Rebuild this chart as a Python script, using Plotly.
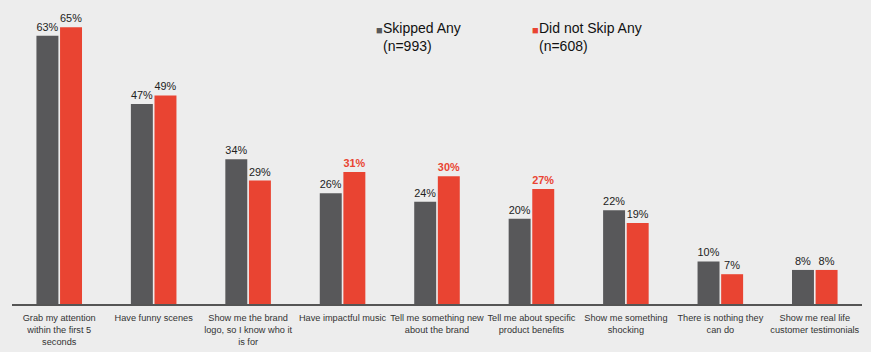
import plotly.graph_objects as go

categories = [
    "Grab my attention<br>within the first 5<br>seconds",
    "Have funny scenes",
    "Show me the brand<br>logo, so I know who it<br>is for",
    "Have impactful music",
    "Tell me something new<br>about the brand",
    "Tell me about specific<br>product benefits",
    "Show me something<br>shocking",
    "There is nothing they<br>can do",
    "Show me real life<br>customer testimonials",
]
skipped = [63, 47, 34, 26, 24, 20, 22, 10, 8]
not_skipped = [65, 49, 29, 31, 30, 27, 19, 7, 8]
highlight = [False, False, False, True, True, True, False, False, False]

GREY = "#58585a"
RED = "#e94432"
FONT = "Liberation Sans, Arial, sans-serif"

fig = go.Figure()
fig.add_trace(go.Bar(
    x=categories, y=skipped, name="Skipped Any",
    marker=dict(color=GREY, line=dict(width=0)),
    text=[f"{v}%" for v in skipped], textposition="outside",
    textfont=dict(size=11, color="#222", family=FONT),
    cliponaxis=False,
))
fig.add_trace(go.Bar(
    x=categories, y=not_skipped, name="Did not Skip Any",
    marker=dict(color=RED, line=dict(width=0)),
    text=[f"<b>{v}%</b>" if h else f"{v}%" for v, h in zip(not_skipped, highlight)],
    textposition="outside",
    textfont=dict(size=11, color=[RED if h else "#222" for h in highlight], family=FONT),
    cliponaxis=False,
))

fig.update_layout(
    width=871, height=352,
    margin=dict(l=12, r=9, t=6, b=48, autoexpand=False),
    paper_bgcolor="#ededed", plot_bgcolor="#ededed",
    barmode="group", bargap=0.5, bargroupgap=0.07,
    showlegend=False,
    font=dict(family=FONT, color="#333"),
    xaxis=dict(
        showline=True, linecolor="#555", linewidth=2,
        tickfont=dict(size=9.2, color="#333", family=FONT),
        tickangle=0, automargin=False, ticklabelstandoff=4,
        ticks="", showgrid=False, fixedrange=True,
    ),
    yaxis=dict(range=[0, 70], visible=False, showgrid=False, fixedrange=True),
)

legend_items = [("Skipped Any<br>(n=993)", GREY, 374), ("Did not Skip Any<br>(n=608)", RED, 530)]
for label, color, px in legend_items:
    fig.add_annotation(
        xref="paper", yref="paper", x=(px - 12) / 850, y=1 - (22 - 6) / 298,
        text="■", showarrow=False, xanchor="left", yanchor="top",
        font=dict(size=11, color=color, family=FONT),
    )
    fig.add_annotation(
        xref="paper", yref="paper", x=(px + 7 - 12) / 850, y=1 - (18 - 6) / 298,
        text=label, showarrow=False, xanchor="left", yanchor="top", align="left",
        font=dict(size=14, color="#111", family=FONT),
    )

fig.write_html("out.html")
